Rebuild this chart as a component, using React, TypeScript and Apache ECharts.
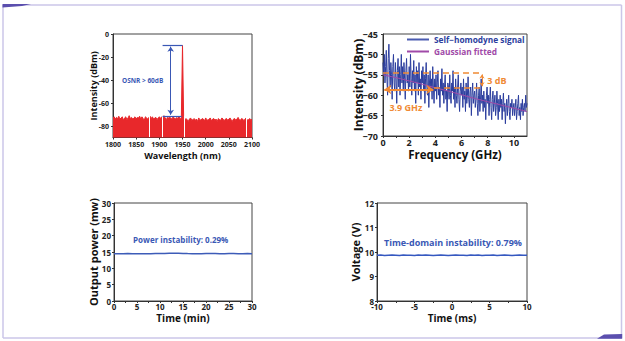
import React, { useEffect, useRef } from 'react';
import * as echarts from 'echarts';

// ---------- Panel 1: optical spectrum ----------
const SPEC_START_NM = 1800;
const SPEC_STEP_NM = 2.5;
const SPEC_DBM = [
  -73, -72, -74, -72.5, -73.5, -71.5, -74, -73, -72, -75, -73, -72, -74.5, -73, -71, -73.5, -72.5, -74, -73, -72,
  -74, -72.5, -73, -71.5, -74, -72, -73.5, -75, -72, -73, -74, -72.5, -71.5, -73.5, -72, -74, -73, -72.5, -74.5, -73,
  -72, -73.5, -72, -74, -71, -73, -74.5, -72.5, -73, -72, -74, -73.5, -72, -73, -74, -72.5, -73.5, -72, -74, -73,
  -10,
  -74, -75, -73.5, -74.5, -76, -74, -73, -75, -74.5, -73.5, -75, -74, -76, -73, -74.5, -75, -73.5, -74, -75.5, -73,
  -74.5, -75, -74, -73, -75.5, -74, -73.5, -75, -74, -76, -73.5, -74.5, -75, -73, -74, -75.5, -74, -73.5, -75, -74,
  -73, -74.5, -76, -74, -73.5, -75, -74, -72.5, -74.5, -75, -73.5, -74, -75.5, -74, -73, -75, -74.5, -73.5, -75, -74,
];
const SPEC_DIPS_NM = [1878, 1906, 1954, 2087];
const SPEC_Y_TICKS = [0, -20, -40, -60, -80];

// ---------- Panel 2: self-homodyne spectrum ----------
const FREQ_STEP_GHZ = 0.05;
const SIGNAL_DBM = [
  -52, -55, -50, -57, -53, -49, -56, -60, -51, -47.5, -54, -58, -52, -55, -61, -53, -50, -57, -59, -52,
  -56, -62, -54, -51, -58, -53, -60, -55, -50, -57, -53, -59, -52, -56, -61, -54, -51, -57, -55, -59,
  -53, -58, -50, -56, -60, -54, -57, -51.5, -59, -55, -62, -53, -57, -54, -60, -52, -58, -56, -61, -54,
  -57, -53, -59, -55, -62, -56, -52, -58, -60, -55, -63, -57, -54, -59, -56, -61, -53, -58, -62, -56,
  -59, -55, -61, -57, -54, -60, -58, -63, -56, -59, -53.5, -60, -57, -62, -58, -55, -61, -59, -64, -57,
  -58, -61, -55, -60, -62, -57, -59, -54, -61, -58, -63, -56, -60, -62, -58, -55, -61, -64, -59, -57,
  -60, -58, -63, -56, -61, -59, -64, -57, -62, -60, -55.5, -61, -63, -59, -58, -65, -60, -57, -62, -60,
  -59, -63, -61, -57, -62, -65, -60, -58, -64, -61, -56, -62, -60, -64, -59, -63, -61, -66, -60, -58,
  -62, -60, -65, -61, -58, -63, -66, -61, -59, -64, -62, -60, -65, -63, -59, -62, -66, -61, -64, -60,
  -63, -61, -66, -62, -59.5, -64, -62, -67, -63, -61, -65, -62, -60, -64, -66, -62, -63, -61, -65, -63,
  -62, -65, -63, -61, -66, -64, -62, -60, -65, -63, -66, -62, -64, -61, -65, -63, -62, -64, -60, -63, -62,
];
const FIT_FREQ_GHZ = [0, 1, 2, 3, 4, 5, 6, 7, 8, 9, 10, 11];
const FIT_DBM = [-55, -55.7, -56.5, -57.3, -58.2, -59.0, -59.9, -60.8, -61.6, -62.4, -63.2, -64.0];

// ---------- Panel 3: output power ----------
const POWER_TIME_MIN = [0, 1, 2, 3, 4, 5, 6, 7, 8, 9, 10, 11, 12, 13, 14, 15, 16, 17, 18, 19, 20, 21, 22, 23, 24, 25, 26, 27, 28, 29, 30];
const POWER_MW = [14.45, 14.47, 14.5, 14.52, 14.5, 14.48, 14.46, 14.47, 14.5, 14.53, 14.55, 14.56, 14.58, 14.6, 14.58, 14.55, 14.52, 14.5, 14.49, 14.5, 14.52, 14.53, 14.52, 14.5, 14.5, 14.51, 14.52, 14.5, 14.5, 14.51, 14.5];

// ---------- Panel 4: voltage ----------
const VOLT_TIME_MS = [-10, -9.5, -9, -8.5, -8, -7.5, -7, -6.5, -6, -5.5, -5, -4.5, -4, -3.5, -3, -2.5, -2, -1.5, -1, -0.5, 0, 0.5, 1, 1.5, 2, 2.5, 3, 3.5, 4, 4.5, 5, 5.5, 6, 6.5, 7, 7.5, 8, 8.5, 9, 9.5, 10];
const VOLTAGE_V = [9.87, 9.88, 9.86, 9.87, 9.88, 9.87, 9.86, 9.88, 9.87, 9.87, 9.86, 9.88, 9.87, 9.88, 9.87, 9.86, 9.87, 9.88, 9.87, 9.86, 9.87, 9.88, 9.87, 9.87, 9.86, 9.88, 9.87, 9.88, 9.86, 9.87, 9.87, 9.88, 9.86, 9.87, 9.88, 9.87, 9.86, 9.87, 9.88, 9.87, 9.87];

const FONT = '"Open Sans", "DejaVu Sans", sans-serif';
const AX = '#333';
const RED = '#e8282b';
const BLUE_NOTE = '#3a58b5';
const SIG_BLUE = '#2c3e9e';
const FIT_PURPLE = '#a04aa8';
const ORANGE = '#f08a35';
const FRAME = '#cbc6e8';
const TAB = '#5b4fae';
const SIG_NAME = 'Self\u2212homodyne signal';
const FIT_NAME = 'Gaussian fitted';

function axis(o: any) {
  const { labelSize, nameSize, margin, nameGap, axisLabel, ...rest } = o;
  return {
    type: 'value',
    splitLine: { show: false },
    axisLine: { show: true, onZero: false, lineStyle: { color: AX, width: 1 } },
    axisTick: { show: true, length: 2, lineStyle: { color: AX } },
    axisLabel: { color: '#222', fontFamily: FONT, fontWeight: 'bold', fontSize: labelSize, margin, formatter: (v: number) => String(v), ...(axisLabel || {}) },
    nameLocation: 'middle',
    nameGap,
    nameMoveOverlap: false,
    nameTextStyle: { color: '#111', fontFamily: FONT, fontWeight: 'bold', fontSize: nameSize },
    ...rest,
  };
}

function note(text: string, coord: number[], color: string, size: number) {
  return {
    coord,
    symbol: 'rect',
    symbolSize: 1,
    itemStyle: { color: 'rgba(0,0,0,0)' },
    label: { show: true, position: 'inside', formatter: text, color, fontFamily: FONT, fontWeight: 'bold', fontSize: size },
  };
}

function seg(a: number[], b: number[], color: string, width: number, type: any, s1: string, s2: string, size: number) {
  const ls = { color, width, type };
  return [
    { coord: a, symbol: s1, symbolSize: size, lineStyle: ls },
    { coord: b, symbol: s2, symbolSize: size, lineStyle: ls },
  ];
}

function legendItem(name: string, color: string, top: number) {
  return {
    left: 407,
    top,
    icon: 'rect',
    itemWidth: 22,
    itemHeight: 2,
    itemGap: 0,
    padding: 0,
    textStyle: { fontFamily: FONT, fontWeight: 'bold', fontSize: 8.3, color },
    data: [{ name, textStyle: { color } }],
  };
}

function buildOption() {
  const spec = SPEC_DBM.map((v, i) => [SPEC_START_NM + i * SPEC_STEP_NM, v]);
  const signal = SIGNAL_DBM.map((v, i) => [i * FREQ_STEP_GHZ, v]);
  const fit = FIT_DBM.map((v, i) => [FIT_FREQ_GHZ[i], v]);
  const power = POWER_MW.map((v, i) => [POWER_TIME_MIN[i], v]);
  const volt = VOLTAGE_V.map((v, i) => [VOLT_TIME_MS[i], v]);
  const minus = (v: number) => String(v).replace('-', '\u2212');

  const gridBase = { show: true, borderColor: '#444', borderWidth: 1, backgroundColor: '#fff', containLabel: false };

  return {
    animation: false,
    backgroundColor: '#ffffff',
    textStyle: { fontFamily: FONT },
    grid: [
      { ...gridBase, left: 113, top: 34, width: 139, height: 103.5 },
      { ...gridBase, left: 383, top: 34, width: 144, height: 102 },
      { ...gridBase, left: 114, top: 203, width: 138, height: 98 },
      { ...gridBase, left: 377, top: 203, width: 150, height: 98 },
    ],
    xAxis: [
      axis({ gridIndex: 0, min: 1800, max: 2100, interval: 50, labelSize: 7, nameSize: 9, margin: 3, nameGap: 13, name: 'Wavelength (nm)' }),
      axis({
        gridIndex: 1, min: 0, max: 11, labelSize: 9, nameSize: 11.5, margin: 1.5, nameGap: 12, name: 'Frequency (GHz)',
        axisLabel: { customValues: [0, 2, 4, 6, 8, 10] },
        axisTick: { show: true, length: 2, lineStyle: { color: AX }, customValues: [0, 1, 2, 3, 4, 5, 6, 7, 8, 9, 10] },
      }),
      axis({
        gridIndex: 2, min: 0, max: 30, interval: 5, labelSize: 8, nameSize: 10, margin: 1.5, nameGap: 12, name: 'Time (min)',
        minorTick: { show: true, splitNumber: 2, length: 2, lineStyle: { color: AX } },
      }),
      axis({
        gridIndex: 3, min: -10, max: 10, interval: 5, labelSize: 8, nameSize: 10, margin: 1.5, nameGap: 12, name: 'Time (ms)',
        minorTick: { show: true, splitNumber: 2, length: 2, lineStyle: { color: AX } },
      }),
    ],
    yAxis: [
      axis({
        gridIndex: 0, min: -90, max: 0, labelSize: 7, nameSize: 9, margin: 4, nameGap: 15, name: 'Intensity (dBm)',
        axisLabel: { customValues: SPEC_Y_TICKS },
        axisTick: { show: true, length: 2, lineStyle: { color: AX }, customValues: SPEC_Y_TICKS },
      }),
      axis({
        gridIndex: 1, min: -70, max: -45, interval: 5, labelSize: 9, nameSize: 12, margin: 5, nameGap: 19, name: 'Intensity (dBm)',
        axisLabel: { formatter: minus },
      }),
      axis({ gridIndex: 2, min: 0, max: 30, interval: 5, labelSize: 8, nameSize: 11, margin: 3, nameGap: 15, name: 'Output power (mw)' }),
      axis({ gridIndex: 3, min: 8, max: 12, interval: 1, labelSize: 8, nameSize: 11, margin: 3, nameGap: 16, name: 'Voltage (V)' }),
    ],
    legend: [legendItem(SIG_NAME, SIG_BLUE, 35.5), legendItem(FIT_NAME, FIT_PURPLE, 47.5)],
    series: [
      {
        name: 'spectrum',
        type: 'line',
        xAxisIndex: 0,
        yAxisIndex: 0,
        data: spec,
        symbol: 'none',
        lineStyle: { color: RED, width: 1 },
        itemStyle: { color: RED },
        areaStyle: { color: RED, opacity: 1, origin: 'start' },
        markLine: {
          silent: true,
          symbol: ['none', 'none'],
          label: { show: false },
          data: SPEC_DIPS_NM.map((w) => seg([w, -89.6], [w, -71], '#ffffff', 1, 'solid', 'none', 'none', 0)),
        },
      },
      {
        name: 'osnr-note',
        type: 'line',
        xAxisIndex: 0,
        yAxisIndex: 0,
        data: [],
        markLine: {
          silent: true,
          label: { show: false },
          data: [
            seg([1907, -9.7], [1950, -9.7], BLUE_NOTE, 1.2, 'solid', 'none', 'none', 0),
            seg([1907, -71.4], [1948, -71.4], BLUE_NOTE, 1.2, 'solid', 'none', 'none', 0),
            seg([1924.5, -11], [1924.5, -70.2], BLUE_NOTE, 1, 'solid', 'arrow', 'arrow', 5),
          ],
        },
        markPoint: { silent: true, data: [note('OSNR > 60dB', [1864, -40], BLUE_NOTE, 6.5)] },
      },
      {
        name: SIG_NAME,
        type: 'line',
        xAxisIndex: 1,
        yAxisIndex: 1,
        data: signal,
        symbol: 'none',
        lineStyle: { color: SIG_BLUE, width: 1 },
        itemStyle: { color: '#4a5bb0' },
      },
      {
        name: FIT_NAME,
        type: 'line',
        xAxisIndex: 1,
        yAxisIndex: 1,
        data: fit,
        symbol: 'none',
        lineStyle: { color: FIT_PURPLE, width: 1 },
        itemStyle: { color: FIT_PURPLE },
      },
      {
        name: 'bw-note',
        type: 'line',
        xAxisIndex: 1,
        yAxisIndex: 1,
        data: [],
        markLine: {
          silent: true,
          label: { show: false },
          data: [
            seg([0, -54.6], [7.56, -54.6], ORANGE, 1.5, [6, 4], 'none', 'none', 0),
            seg([3.9, -58.1], [7.56, -58.1], ORANGE, 1.5, [6, 4], 'none', 'none', 0),
            seg([7.56, -54.9], [7.56, -57.8], ORANGE, 1, 'solid', 'arrow', 'arrow', 4),
            seg([0.1, -58.6], [3.85, -58.6], ORANGE, 2, 'solid', 'arrow', 'arrow', 7),
          ],
        },
        markPoint: {
          silent: true,
          data: [note('3 dB', [8.7, -56.5], ORANGE, 9), note('3.9 GHz', [1.75, -63.1], ORANGE, 9)],
        },
      },
      {
        name: 'power',
        type: 'line',
        xAxisIndex: 2,
        yAxisIndex: 2,
        data: power,
        symbol: 'none',
        lineStyle: { color: '#3d5cb8', width: 1.5 },
        markPoint: { silent: true, data: [note('Power instability: 0.29%', [14.5, 18.7], BLUE_NOTE, 8)] },
      },
      {
        name: 'voltage',
        type: 'line',
        xAxisIndex: 3,
        yAxisIndex: 3,
        data: volt,
        symbol: 'none',
        lineStyle: { color: '#3558c0', width: 1.5 },
        markPoint: { silent: true, data: [note('Time-domain instability: 0.79%', [0.13, 10.37], BLUE_NOTE, 9)] },
      },
    ],
    graphic: [
      { type: 'line', shape: { x1: 3, y1: 5, x2: 621.5, y2: 5 }, style: { stroke: FRAME, lineWidth: 1.5 } },
      { type: 'line', shape: { x1: 3, y1: 5, x2: 3, y2: 338 }, style: { stroke: FRAME, lineWidth: 1.5 } },
      { type: 'line', shape: { x1: 3, y1: 338, x2: 621.5, y2: 338 }, style: { stroke: FRAME, lineWidth: 1.5 } },
      { type: 'line', shape: { x1: 621.5, y1: 5, x2: 621.5, y2: 338 }, style: { stroke: FRAME, lineWidth: 1.5 } },
      { type: 'polygon', shape: { points: [[2.5, 4], [31, 4], [22, 6], [2.5, 7.5]] }, style: { fill: TAB } },
      { type: 'polygon', shape: { points: [[597, 338.8], [604, 334.5], [622.2, 334], [622.2, 338.8]] }, style: { fill: TAB } },
    ],
  };
}

export default function App() {
  const ref = useRef<HTMLDivElement>(null);
  useEffect(() => {
    if (!ref.current) return;
    const chart = echarts.init(ref.current, undefined, { renderer: 'svg' });
    chart.setOption(buildOption() as any);
    return () => chart.dispose();
  }, []);
  return <div ref={ref} style={{ position: 'absolute', left: 0, top: 0, width: 625, height: 341, background: '#fff' }} />;
}
